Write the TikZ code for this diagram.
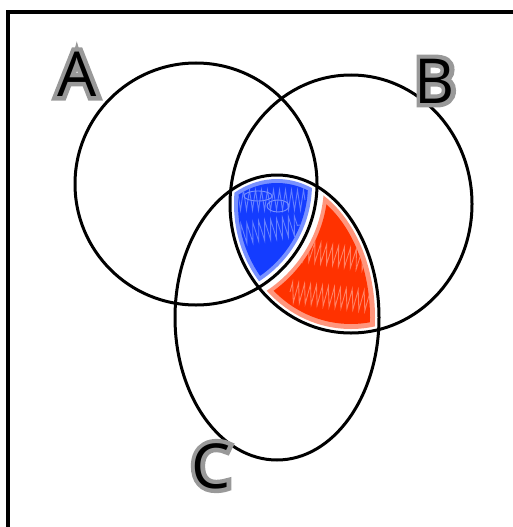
\documentclass[tikz,border=0pt]{standalone}
\usepackage{fontspec}
\newfontfamily\labfont{Open Sans}
\newfontfamily\labhalo{Open Sans}[FakeBold=14]
\usetikzlibrary{decorations.pathmorphing}
\definecolor{bluesolid}{RGB}{20,60,255}
\definecolor{bluehalo}{RGB}{120,145,255}
\definecolor{redsolid}{RGB}{255,50,0}
\definecolor{redhalo}{RGB}{255,150,125}
\begin{document}
\begin{tikzpicture}[x=1pt,y=-1pt,
  ring/.style={draw=black,line width=3pt},
  frameline/.style={draw=black,line width=3.5pt},
  lab/.style={font=\labfont\fontsize{62}{62}\selectfont,inner sep=0pt,text=black},
  labh/.style={font=\labhalo\fontsize{62}{62}\selectfont,inner sep=0pt,text=black!40},
  scrib/.style={line width=0.9pt,decorate,decoration={zigzag,segment length=6pt,amplitude=10pt}}]
\useasboundingbox (0,0) rectangle (513,527);
% frame (top and left edges)
\coordinate (f1) at (8,527);
\coordinate (f2) at (8,12);
\coordinate (f3) at (513,12);
\draw[frameline] (f1) -- (f2) -- (f3);
% blue region: A and B and C
\begin{scope}
  \clip (196,184) circle [radius=116pt];
  \clip (351,204) ellipse [x radius=117pt, y radius=125pt];
  \clip (277,317.5) ellipse [x radius=98pt, y radius=138.5pt];
  \fill[bluehalo] (0,0) rectangle (513,527);
\end{scope}
\begin{scope}
  \clip (196,184) circle [radius=112pt];
  \clip (351,204) ellipse [x radius=113pt, y radius=121pt];
  \clip (277,317.5) ellipse [x radius=94pt, y radius=134.5pt];
  \fill[bluesolid] (0,0) rectangle (513,527);
  \draw[bluehalo,scrib,opacity=0.8] (230,200) -- (305,200);
  \draw[bluehalo,scrib,opacity=0.8] (235,235) -- (300,225);
  \draw[bluehalo,line width=0.9pt] (258,196) ellipse [x radius=14pt, y radius=5pt];
  \draw[bluehalo,line width=0.9pt] (278,206) ellipse [x radius=11pt, y radius=6pt];
\end{scope}
% red region: B and C, not A
\begin{scope}[even odd rule]
  \clip (351,204) ellipse [x radius=117pt, y radius=125pt];
  \clip (277,317.5) ellipse [x radius=98pt, y radius=138.5pt];
  \clip (0,0) rectangle (513,527) (196,184) circle [radius=128pt];
  \fill[redhalo] (0,0) rectangle (513,527);
\end{scope}
\begin{scope}[even odd rule]
  \clip (351,204) ellipse [x radius=112pt, y radius=120pt];
  \clip (277,317.5) ellipse [x radius=93pt, y radius=133.5pt];
  \clip (0,0) rectangle (513,527) (196,184) circle [radius=132pt];
  \fill[redsolid] (0,0) rectangle (513,527);
  \draw[redhalo,scrib,opacity=0.8] (300,250) -- (375,262);
  \draw[redhalo,scrib,opacity=0.8] (290,292) -- (375,302);
\end{scope}
% circles
\draw[ring] (196,184) circle [radius=121pt];
\draw[ring] (351,204) ellipse [x radius=121pt, y radius=129pt];
\draw[ring] (277,317.5) ellipse [x radius=102pt, y radius=142.5pt];
% labels
\node[labh] (hA) at (77,74) {A};
\node[lab] (A) at (77,74) {A};
\node[labh] (hB) at (435,81) {B};
\node[lab] (B) at (435,81) {B};
\node[labh] (hC) at (211,466) {C};
\node[lab] (C) at (211,466) {C};
\end{tikzpicture}
\end{document}
